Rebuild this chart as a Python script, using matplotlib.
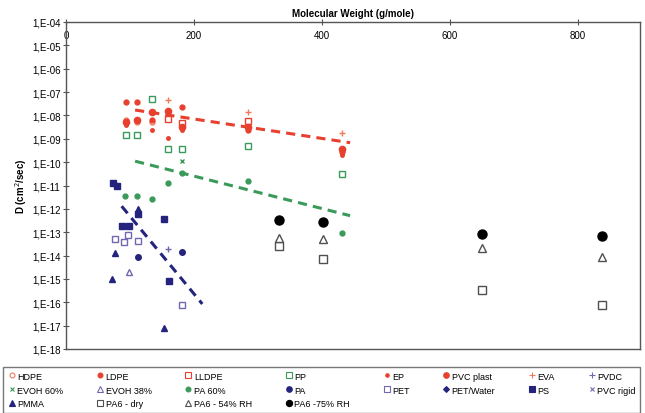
#!/usr/bin/env python3

import matplotlib
matplotlib.use('Agg')
import matplotlib.pyplot as plt
from matplotlib.lines import Line2D

plt.rcParams['font.family'] = ['Liberation Sans', 'DejaVu Sans']

# Molecular weight (g/mole) and diffusion coefficient D (cm2/sec)
hdpe_mw = [94, 111, 134]
hdpe_d = [6.3e-9, 5.0e-9, 5.0e-9]
ldpe_mw = [94, 111, 134, 181, 285, 431]
ldpe_d = [3.7e-8, 3.7e-8, 6.3e-9, 2.3e-8, 2.3e-9, 2.7e-10]
lldpe_mw = [159, 181, 285]
lldpe_d = [7.2e-9, 4.9e-9, 5.5e-9]
pp_mw = [94, 111, 134, 159, 181, 285, 431]
pp_d = [1.5e-9, 1.4e-9, 5.1e-8, 3.7e-10, 3.5e-10, 5.1e-10, 3.0e-11]
ep_mw = [94, 134, 159, 181, 431]
ep_d = [4.0e-9, 2.3e-9, 1.1e-9, 2.3e-9, 2.0e-10]
pvcp_mw = [94, 111, 134, 159, 181, 285, 431]
pvcp_d = [5.0e-9, 6.3e-9, 1.4e-8, 1.6e-8, 3.2e-9, 3.2e-9, 3.7e-10]
eva_mw = [159, 285, 431]
eva_d = [4.4e-8, 1.4e-8, 1.8e-9]
pvdc_mw = [160]
pvdc_d = [2.0e-14]
evoh60_mw = [181]
evoh60_d = [1.1e-10]
evoh38_mw = [99]
evoh38_d = [2.0e-15]
pa60_mw = [92, 111, 134, 160, 181, 285, 431]
pa60_d = [3.4e-12, 3.7e-12, 2.7e-12, 1.3e-11, 3.5e-11, 1.6e-11, 9.3e-14]
pa_mw = [112, 182]
pa_d = [9.1e-15, 1.4e-14]
pet_mw = [77, 90, 97, 112, 182]
pet_d = [5.0e-14, 4.0e-14, 7.8e-14, 4.4e-14, 7.8e-17]
petw_mw = []
petw_d = []
ps_mw = [74, 79, 88, 99, 112, 153, 161]
ps_d = [1.3e-11, 1.0e-11, 1.9e-13, 1.9e-13, 6.2e-13, 3.6e-13, 8.1e-16]
pvcr_mw = []
pvcr_d = []
pmma_mw = [72, 77, 112, 153]
pmma_d = [9.8e-16, 1.3e-14, 1.0e-12, 8.1e-18]
pa6dry_mw = [333, 402, 650, 837]
pa6dry_d = [2.5e-14, 7.2e-15, 3.2e-16, 7.6e-17]
pa654_mw = [333, 402, 650, 837]
pa654_d = [5.5e-14, 5.1e-14, 2.1e-14, 8.5e-15]
pa675_mw = [333, 402, 650, 837]
pa675_d = [3.2e-13, 2.7e-13, 8.5e-14, 6.8e-14]

# dashed trend lines (end points)
red_trend_mw = [108, 444]
red_trend_d = [1.7e-8, 6.8e-10]
green_trend_mw = [108, 444]
green_trend_d = [1.1e-10, 5.1e-13]
blue_trend_mw = [87, 213]
blue_trend_d = [1.3e-12, 8.5e-17]

red = '#e8402e'
orange = '#f07a5a'
green = '#3a9a5a'
navy = '#24247e'
purple = '#7268b0'

fig = plt.figure(figsize=(6.45, 4.14), dpi=100)
ax = fig.add_axes([66 / 645, 1 - 350 / 414, 574 / 645, 327 / 414])

ax.plot(red_trend_mw, red_trend_d, '--', color=red, lw=2.2, dashes=(3, 2))
ax.plot(green_trend_mw, green_trend_d, '--', color=green, lw=2.2, dashes=(3, 2))
ax.plot(blue_trend_mw, blue_trend_d, '--', color=navy, lw=2.2, dashes=(3, 2))

# (label, x, y, marker, size, facecolor, edgecolor)
series = [
    ('HDPE', hdpe_mw, hdpe_d, 'o', 3.5, 'white', orange),
    ('LDPE', ldpe_mw, ldpe_d, 'o', 3.5, red, red),
    ('LLDPE', lldpe_mw, lldpe_d, 's', 4.5, 'white', red),
    ('PP', pp_mw, pp_d, 's', 4, 'white', green),
    ('EP', ep_mw, ep_d, 'o', 2.5, red, red),
    ('PVC plast', pvcp_mw, pvcp_d, 'o', 4.5, red, red),
    ('EVA', eva_mw, eva_d, '+', 4, orange, orange),
    ('PVDC', pvdc_mw, pvdc_d, '+', 4, purple, purple),
    ('EVOH 60%', evoh60_mw, evoh60_d, 'x', 3, green, green),
    ('EVOH 38%', evoh38_mw, evoh38_d, '^', 4.5, 'white', purple),
    ('PA 60%', pa60_mw, pa60_d, 'o', 3.5, green, green),
    ('PA', pa_mw, pa_d, 'o', 4, navy, navy),
    ('PET', pet_mw, pet_d, 's', 4, 'white', purple),
    ('PET/Water', petw_mw, petw_d, 'D', 3, navy, navy),
    ('PS', ps_mw, ps_d, 's', 5, navy, navy),
    ('PVC rigid', pvcr_mw, pvcr_d, 'x', 3.5, purple, purple),
    ('PMMA', pmma_mw, pmma_d, '^', 4, navy, navy),
    ('PA6 - dry', pa6dry_mw, pa6dry_d, 's', 6, 'white', '#505050'),
    ('PA6 - 54% RH', pa654_mw, pa654_d, '^', 6, 'white', '#505050'),
    ('PA6 -75% RH', pa675_mw, pa675_d, 'o', 6.5, 'black', 'black'),
]

handles = {}
for label, xs, ys, mk, ms, fc, ec in series:
    ax.plot(xs, ys, linestyle='none', marker=mk, markersize=ms,
            markerfacecolor=fc, markeredgecolor=ec, markeredgewidth=1.0)
    # small marker for the legend box
    handles[label] = Line2D([], [], linestyle='none', marker=mk,
                            markersize=min(ms, 4) if mk != 'o' or fc != 'black' else 4.5,
                            markerfacecolor=fc, markeredgecolor=ec, markeredgewidth=0.8)

ax.set_yscale('log')
ax.set_xlim(0, 897)
ax.set_ylim(1e-18, 1e-4)

yticks = [10.0 ** -k for k in range(4, 19)]
ax.set_yticks(yticks)
ax.set_yticklabels(['1,E-%02d' % k for k in range(4, 19)])
ax.yaxis.set_minor_locator(matplotlib.ticker.NullLocator())
ax.tick_params(axis='y', labelsize=7, length=4, direction='inout', color='#555555', pad=2)

ax.xaxis.tick_top()
ax.set_xticks([0, 200, 400, 600, 800])
ax.tick_params(axis='x', labelsize=7, length=4, direction='inout', color='#555555', pad=-15)
ax.xaxis.set_label_position('top')
ax.set_xlabel('Molecular Weight (g/mole)', fontsize=7, fontweight='bold', labelpad=2)
ax.set_ylabel('D (cm$^2$/sec)', fontsize=7, fontweight='bold', labelpad=2)

for s in ax.spines.values():
    s.set_color('#555555')
    s.set_linewidth(1.0)

# legend laid out row by row (matplotlib fills columns first)
rows = [
    ['HDPE', 'LDPE', 'LLDPE', 'PP', 'EP', 'PVC plast', 'EVA', 'PVDC'],
    ['EVOH 60%', 'EVOH 38%', 'PA 60%', 'PA', 'PET', 'PET/Water', 'PS', 'PVC rigid'],
    ['PMMA', 'PA6 - dry', 'PA6 - 54% RH', 'PA6 -75% RH'],
]
order = []
for j in range(8):
    for r in rows:
        if j < len(r):
            order.append(r[j])

leg = fig.legend([handles[k] for k in order], order, loc='lower left',
                 bbox_to_anchor=(3 / 645, 0, 637 / 645, 57 / 414), mode='expand',
                 ncol=8, fontsize=6.5, frameon=True, fancybox=False,
                 edgecolor='#555555', borderaxespad=0, handletextpad=0.1,
                 handlelength=1.0, labelspacing=0.55, borderpad=0.5)
leg.get_frame().set_linewidth(1.0)

plt.savefig('out.png', dpi=100)
plt.close()
